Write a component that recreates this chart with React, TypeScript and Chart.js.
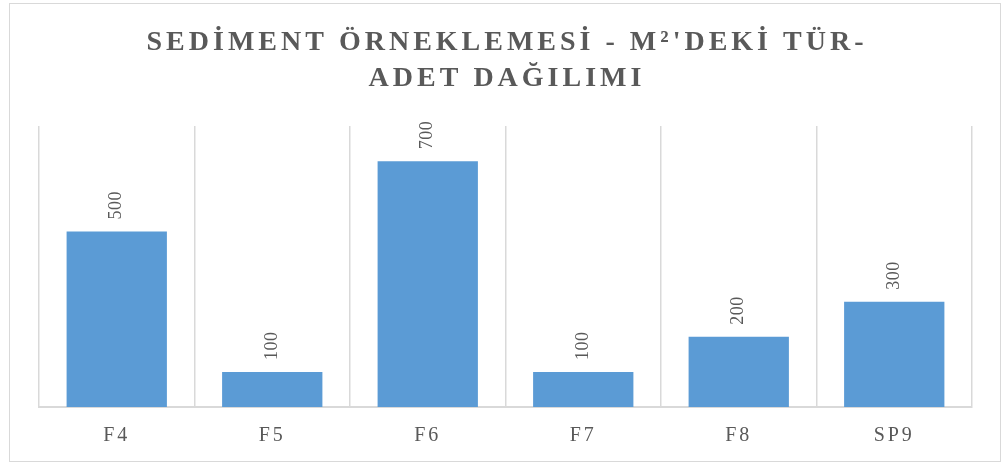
import React, { useEffect, useRef } from "react";
import { Chart, registerables } from "chart.js";

Chart.register(...registerables);

const categories = ["F4", "F5", "F6", "F7", "F8", "SP9"];
const values = [500, 100, 700, 100, 200, 300];
const titleLines = ["SEDİMENT ÖRNEKLEMESİ - M²'DEKİ TÜR-", "ADET DAĞILIMI"];
const yMax = 800;

const GREY = "#595959";
const GRID = "#d9d9d9";
const BAR = "#5B9BD5";
const SERIF = "'Liberation Serif', 'Times New Roman', serif";

const titlePlugin = {
  id: "customTitle",
  afterDraw(chart: any) {
    const ctx = chart.ctx as any;
    ctx.save();
    ctx.fillStyle = GREY;
    ctx.font = `bold 28px ${SERIF}`;
    ctx.letterSpacing = "4px";
    ctx.textAlign = "center";
    ctx.textBaseline = "alphabetic";
    const cx = chart.width / 2 + 2;
    ctx.fillText(titleLines[0], cx, 45.5);
    ctx.fillText(titleLines[1], cx, 81.5);
    ctx.restore();
  },
};

const labelPlugin = {
  id: "barLabels",
  afterDatasetsDraw(chart: any) {
    const ctx = chart.ctx as any;
    const meta = chart.getDatasetMeta(0);
    ctx.save();
    ctx.fillStyle = GREY;
    ctx.font = `18px ${SERIF}`;
    ctx.letterSpacing = "0.5px";
    ctx.textAlign = "left";
    ctx.textBaseline = "middle";
    meta.data.forEach((el: any, i: number) => {
      ctx.save();
      ctx.translate(el.x, el.y - 12);
      ctx.rotate(-Math.PI / 2);
      ctx.fillText(String(values[i]), 0, 0);
      ctx.restore();
    });
    ctx.restore();
  },
};

const letterSpacingPlugin = {
  id: "tickSpacing",
  beforeDraw(chart: any) {
    (chart.ctx as any).letterSpacing = "3px";
  },
};

export default function App() {
  const ref = useRef<HTMLCanvasElement | null>(null);
  useEffect(() => {
    if (!ref.current) return;
    const chart = new Chart(ref.current, {
      type: "bar",
      data: {
        labels: categories,
        datasets: [
          {
            data: values,
            backgroundColor: BAR,
            borderWidth: 0,
            barPercentage: 0.645,
            categoryPercentage: 1,
          },
        ],
      },
      options: {
        responsive: false,
        animation: false,
        layout: { padding: { top: 122, left: 29, right: 28, bottom: 0 } },
        plugins: {
          legend: { display: false },
          tooltip: { enabled: false },
          title: { display: false },
        },
        scales: {
          x: {
            afterFit(scale: any) {
              scale.height = 54;
            },
            grid: { color: GRID, lineWidth: 1.5, drawTicks: false, offset: true },
            border: { display: true, color: GRID, width: 2 },
            ticks: {
              color: GREY,
              padding: 17,
              font: { family: SERIF, size: 20, lineHeight: 1.2 },
            },
          },
          y: {
            display: false,
            min: 0,
            max: yMax,
          },
        },
      },
      plugins: [letterSpacingPlugin, labelPlugin, titlePlugin],
    });
    return () => chart.destroy();
  }, []);
  return (
    <div
      style={{
        position: "fixed",
        left: 9,
        top: 3,
        width: 992,
        height: 459,
        boxSizing: "border-box",
        border: `1px solid ${GRID}`,
        background: "#fff",
      }}
    >
      <canvas ref={ref} width={990} height={457} style={{ display: "block" }} />
    </div>
  );
}
